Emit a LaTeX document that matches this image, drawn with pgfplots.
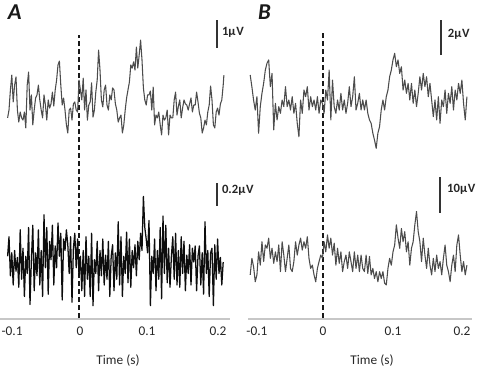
\documentclass[border=0pt]{standalone}
\usepackage{fontspec}
\setmainfont{Carlito}
\usepackage{pgfplots}
\pgfplotsset{compat=1.18}
\tikzset{
  sig/.style={black!70, line width=0.8pt, line join=round},
  sbar/.style={black!80, line width=1.1pt},
  barlab/.style={anchor=west, font=\fontsize{9.5}{11}\selectfont\bfseries, text=black!85, inner sep=0pt},
  dashv/.style={black!90, line width=1.1pt, dash pattern=on 3.8pt off 2.2pt},
}
\pgfplotsset{
  base/.style={anchor=south west, scale only axis, height=213pt,
    ymin=0, ymax=1, axis x line=bottom, axis y line=none,
    x axis line style={-, draw=black!22, line width=1pt},
    xticklabels={-0.1,0,0.1,0.2}, major tick length=0pt,
    xticklabel style={font=\fontsize{10}{12}\selectfont, text=black!85, yshift=-2.5pt}, clip=false},
  trace/.style={anchor=south west, scale only axis, width=167.475pt,
    xmin=-0.106, xmax=0.213, hide axis, clip=false},
}
\begin{document}
\begin{tikzpicture}
\path[use as bounding box] (0,0) rectangle (359.25pt,276.75pt);
% ---------- Panel A base ----------
\begin{axis}[base, at={(0pt,37.5pt)}, width=172.5pt, xmin=-0.1129, xmax=0.2157,
  xtick={-0.0957,0.0014,0.0971,0.1986}]
\addplot[dashv] coordinates {(0,0.003) (0,1)};
\end{axis}
% ---------- Panel B base ----------
\begin{axis}[base, at={(186pt,37.5pt)}, width=168pt, xmin=-0.1071, xmax=0.2129,
  xtick={-0.0943,0,0.1,0.1986}]
\addplot[dashv] coordinates {(0,0.003) (0,1.007)};
\end{axis}
% ---------- A top ----------
\begin{axis}[trace, at={(3.6pt,145.5pt)}, height=115.5pt, ymin=-2.5, ymax=3]
\addplot[sig] coordinates {
(-0.102,-0.46) (-0.100,-0.18) (-0.098,0.54) (-0.096,1.07) (-0.094,0.11) (-0.092,0.71) (-0.090,1.0) (-0.088,-0.18) (-0.086,-0.61) (-0.084,-0.25)
(-0.082,-0.46) (-0.080,-0.54) (-0.078,-0.25) (-0.076,-0.82) (-0.074,0.71) (-0.072,1.18) (-0.070,-0.18) (-0.068,0.36) (-0.066,-0.71) (-0.064,-0.18)
(-0.062,0.25) (-0.060,0.36) (-0.058,0.71) (-0.056,0.18) (-0.054,-0.18) (-0.052,-0.46) (-0.050,0.36) (-0.048,0) (-0.046,-0.54) (-0.044,0.18)
(-0.042,-0.11) (-0.040,0.04) (-0.038,0.46) (-0.036,-0.04) (-0.034,0.54) (-0.032,0.89) (-0.030,1.43) (-0.028,1.57) (-0.026,0.71) (-0.024,0)
(-0.022,0.25) (-0.020,-0.18) (-0.018,-0.71) (-0.016,-1.0) (-0.014,-0.18) (-0.012,-0.11) (-0.010,-0.54) (-0.008,0.04) (-0.006,0.11) (-0.004,-0.18)
(-0.002,-0.25) (0.000,0.89) (0.002,0.54) (0.004,0.18) (0.006,0.96) (0.008,-0.18) (0.010,0.54) (0.012,-0.54) (0.014,0) (0.016,0.11)
(0.018,0.79) (0.020,-0.43) (0.022,-0.18) (0.024,0.46) (0.026,0.89) (0.028,1.96) (0.030,1.25) (0.032,0.18) (0.034,-0.07) (0.036,0.54)
(0.038,0.71) (0.040,0) (0.042,-0.18) (0.044,0.36) (0.046,0.18) (0.048,0.61) (0.050,0.54) (0.052,0.04) (0.054,-0.18) (0.056,-0.61)
(0.058,-0.46) (0.060,-0.36) (0.062,-1.0) (0.064,-0.71) (0.066,-0.18) (0.068,0.25) (0.070,0.54) (0.072,0.82) (0.074,1.43) (0.076,1.32)
(0.078,1.54) (0.080,1.25) (0.082,2.07) (0.084,1.32) (0.086,1.79) (0.088,2.32) (0.090,1.61) (0.092,0.61) (0.094,0.18) (0.096,0)
(0.098,0.36) (0.100,0.36) (0.102,0.5) (0.104,-0.18) (0.106,0.64) (0.108,-0.71) (0.110,-0.36) (0.112,-0.46) (0.114,-0.25) (0.116,-0.71)
(0.118,-1.07) (0.120,-0.36) (0.122,-0.54) (0.124,-0.46) (0.126,-0.18) (0.128,-1.07) (0.130,-0.36) (0.132,-0.46) (0.134,-0.46) (0.136,0.18)
(0.138,0.46) (0.140,-0.36) (0.142,-0.04) (0.144,0.18) (0.146,-0.46) (0.148,-0.11) (0.150,0.18) (0.152,0.04) (0.154,0) (0.156,-0.18)
(0.158,0.04) (0.160,0.25) (0.162,-0.25) (0.164,0) (0.166,0) (0.168,0.46) (0.170,0.11) (0.172,-0.29) (0.174,-0.46) (0.176,-1.0)
(0.178,-0.82) (0.180,-0.54) (0.182,-0.71) (0.184,-0.25) (0.186,0) (0.188,0.68) (0.190,0.18) (0.192,-0.71) (0.194,-0.82) (0.196,-0.25)
(0.198,-0.11) (0.200,-0.36) (0.202,0.04) (0.204,0.18) (0.206,0.71) (0.207,1.07)
};
\draw[sbar] (axis cs:0.197,2.04) -- (axis cs:0.197,3.04);
\node[barlab] at (axis cs:0.204,2.6) {1μ\kern0.6pt V};
\end{axis}
% ---------- A bottom ----------
\begin{axis}[trace, at={(3.6pt,37.125pt)}, height=94.875pt, ymin=-0.5, ymax=0.6]
\addplot[black!95, line width=0.95pt, line join=round] coordinates {
(-0.102,0.05) (-0.100,0.22) (-0.098,-0.12) (-0.096,0.08) (-0.094,-0.2) (-0.092,0.1) (-0.090,-0.08) (-0.088,0.04) (-0.086,-0.22) (-0.084,0.28)
(-0.082,-0.15) (-0.080,0.12) (-0.078,-0.3) (-0.076,0.05) (-0.074,-0.1) (-0.072,0.3) (-0.070,-0.37) (-0.068,0.02) (-0.066,0.32) (-0.064,-0.25)
(-0.062,0.08) (-0.060,-0.12) (-0.058,0.28) (-0.056,-0.2) (-0.054,0.1) (-0.052,-0.3) (-0.050,0.41) (-0.048,-0.05) (-0.046,0.3) (-0.044,-0.28)
(-0.042,0.18) (-0.040,0.02) (-0.038,0.32) (-0.036,-0.2) (-0.034,0.14) (-0.032,-0.05) (-0.030,0.34) (-0.028,0.05) (-0.026,0.25) (-0.024,-0.33)
(-0.022,0.2) (-0.020,0.1) (-0.018,0.28) (-0.016,0.15) (-0.014,-0.1) (-0.012,0.22) (-0.010,-0.35) (-0.008,0.12) (-0.006,0.25) (-0.004,-0.05)
(-0.002,0.2) (0.000,-0.12) (0.002,0.05) (0.004,-0.25) (0.006,0.1) (0.008,-0.3) (0.010,0.22) (0.012,-0.15) (0.014,0.05) (0.016,-0.3)
(0.018,0.25) (0.020,-0.38) (0.022,0.02) (0.024,-0.1) (0.026,0.18) (0.028,-0.25) (0.030,0.1) (0.032,-0.12) (0.034,0.2) (0.036,-0.2)
(0.038,0.06) (0.040,-0.15) (0.042,0.18) (0.044,-0.3) (0.046,0.05) (0.048,0.15) (0.050,-0.25) (0.052,0.08) (0.054,-0.15) (0.056,0.35)
(0.058,-0.2) (0.060,0.22) (0.062,-0.3) (0.064,0.05) (0.066,-0.1) (0.068,0.26) (0.070,-0.18) (0.072,0.2) (0.074,-0.22) (0.076,0.1)
(0.078,-0.05) (0.080,0.15) (0.082,-0.12) (0.084,0.18) (0.086,0.02) (0.088,0.25) (0.090,0.1) (0.092,0.57) (0.094,0.3) (0.096,0.2)
(0.098,0.08) (0.100,0.36) (0.102,-0.38) (0.104,0.05) (0.106,-0.1) (0.108,0.2) (0.110,-0.25) (0.112,0.1) (0.114,-0.15) (0.116,0.3)
(0.118,-0.32) (0.120,0.4) (0.122,-0.1) (0.124,0.32) (0.126,-0.18) (0.128,0.12) (0.130,-0.22) (0.132,0.05) (0.134,0.22) (0.136,-0.15)
(0.138,0.25) (0.140,-0.2) (0.142,0.1) (0.144,-0.22) (0.146,0.22) (0.148,-0.1) (0.150,0.18) (0.152,-0.25) (0.154,0.06) (0.156,-0.1)
(0.158,0.15) (0.160,-0.2) (0.162,0.12) (0.164,0.0) (0.166,0.14) (0.168,-0.25) (0.170,0.05) (0.172,0.14) (0.174,-0.2) (0.176,0.08)
(0.178,-0.28) (0.180,0.35) (0.182,-0.1) (0.184,0.1) (0.186,-0.3) (0.188,0.08) (0.190,0.12) (0.192,-0.38) (0.194,0.15) (0.196,-0.15)
(0.198,0.2) (0.200,-0.1) (0.202,0.04) (0.204,-0.2) (0.206,0.0)
};
\draw[sbar] (axis cs:0.197,0.487) -- (axis cs:0.197,0.687);
\node[barlab] at (axis cs:0.204,0.62) {0.2μ\kern0.6pt V};
\end{axis}
% ---------- B top ----------
\begin{axis}[trace, at={(186.6pt,162.375pt)}, height=85.3125pt, ymin=-3, ymax=3.5]
\addplot[sig] coordinates {
(-0.104,1.43) (-0.1016,0.76) (-0.0992,0) (-0.0968,-0.57) (-0.0944,0.19) (-0.092,-1.90) (-0.0896,-0.38) (-0.0872,0.38) (-0.0848,0.95) (-0.0824,1.71)
(-0.08,2.10) (-0.0776,2.29) (-0.0752,0.76) (-0.0728,1.52) (-0.0704,-1.71) (-0.068,-0.19) (-0.0656,-1.14) (-0.0632,-0.38) (-0.0608,-0.76) (-0.0584,0)
(-0.056,-0.38) (-0.0536,0.76) (-0.0512,-0.38) (-0.0488,0) (-0.0464,-0.57) (-0.044,0.19) (-0.0416,-0.76) (-0.0392,-0.19) (-0.0368,-1.33)
(-0.0344,-2.10) (-0.032,0) (-0.0296,-0.76) (-0.0272,0.57) (-0.0248,0.19) (-0.0224,0.76) (-0.02,-0.57) (-0.0176,0.19) (-0.0152,-0.38) (-0.0128,0)
(-0.0104,-0.57) (-0.008,0.19) (-0.0056,-0.76) (-0.0032,0) (-0.0008,-0.19) (0.0016,-0.76) (0.004,0.57) (0.0064,0) (0.0088,1.71) (0.0112,-1.14)
(0.0136,1.14) (0.016,-0.38) (0.0184,-0.76) (0.0208,0) (0.0232,-0.57) (0.0256,0.38) (0.028,-0.57) (0.0304,0) (0.0328,-0.76)
(0.0352,-0.19) (0.0376,0.76) (0.04,-0.38) (0.0424,0.19) (0.0448,1.33) (0.0472,-0.57) (0.0496,-0.19) (0.052,0.38) (0.0544,-0.57) (0.0568,0)
(0.0592,-0.57) (0.0616,0) (0.064,-0.76) (0.0664,-1.14) (0.0688,-1.33) (0.0712,-1.90) (0.0736,-2.29) (0.076,-2.76) (0.0784,-1.90) (0.0808,-1.52)
(0.0832,-0.57) (0.0856,0) (0.088,-0.57) (0.0904,0.19) (0.0928,0.57) (0.0952,1.33) (0.0976,1.71) (0.1,2.29) (0.1024,2.67) (0.1048,1.90)
(0.1072,2.29) (0.1096,1.52) (0.112,1.90) (0.1144,0.57) (0.1168,1.14) (0.1192,0.38) (0.1216,0.95) (0.124,0) (0.1264,0.95) (0.1288,-0.19)
(0.1312,0.57) (0.1336,-0.38) (0.136,0.38) (0.1384,1.33) (0.1408,0.57) (0.1432,1.52) (0.1456,0.76) (0.148,1.33) (0.1504,0.19) (0.1528,0.95)
(0.1552,0) (0.1576,-0.95) (0.16,0) (0.1624,-1.14) (0.1648,0.19) (0.1672,-1.33) (0.1696,0) (0.172,-0.38) (0.1744,0.57) (0.1768,-0.76)
(0.1792,0.38) (0.1816,-0.19) (0.184,0.76) (0.1864,-0.57) (0.1888,0.57) (0.1912,0) (0.1936,0.95) (0.196,0.38) (0.1984,1.14) (0.2008,-0.19)
(0.2032,-1.14) (0.2056,0.19)
};
\draw[sbar] (axis cs:0.1686,2.571) -- (axis cs:0.1686,4.571);
\node[barlab] at (axis cs:0.178,3.75) {2μ\kern0.6pt V};
\end{axis}
% ---------- B bottom ----------
\begin{axis}[trace, at={(186.6pt,36.3pt)}, height=83.7pt, ymin=-16, ymax=15]
\addplot[sig] coordinates {
(-0.104,-3.3) (-0.1016,1.3) (-0.0992,-1.0) (-0.0968,-5.2) (-0.0944,-3.3) (-0.092,3.1) (-0.0896,-0.6) (-0.0872,5.9) (-0.0848,0.4) (-0.0824,5.0)
(-0.08,4.1) (-0.0776,6.9) (-0.0752,1.3) (-0.0728,4.1) (-0.0704,-0.1) (-0.068,3.1) (-0.0656,0.4) (-0.0632,5.0) (-0.0608,-2.4) (-0.0584,5.9)
(-0.056,2.2) (-0.0536,-2.4) (-0.0512,1.3) (-0.0488,5.0) (-0.0464,-1.5) (-0.044,-2.4) (-0.0416,0.4) (-0.0392,5.9) (-0.0368,2.2) (-0.0344,5.0)
(-0.032,6.9) (-0.0296,3.6) (-0.0272,5.9) (-0.0248,4.1) (-0.0224,7.3) (-0.02,1.3) (-0.0176,-1.5) (-0.0152,-0.6) (-0.0128,-3.3) (-0.0104,-5.2)
(-0.008,-1.5) (-0.0056,0.4) (-0.0032,2.2) (-0.0008,1.3) (0.0016,5.9) (0.004,3.1) (0.0064,7.8) (0.0088,4.1) (0.0112,6.9) (0.0136,2.2)
(0.016,5.5) (0.0184,-0.6) (0.0208,4.1) (0.0232,-0.1) (0.0256,3.1) (0.028,-2.4) (0.0304,0.4) (0.0328,2.2) (0.0352,-1.5) (0.0376,3.1)
(0.04,0.4) (0.0424,-2.4) (0.0448,3.1) (0.0472,-1.5) (0.0496,2.2)
(0.052,-2.4) (0.0544,2.2) (0.0568,-1.5) (0.0592,-2.4) (0.0616,2.2) (0.064,-2.9) (0.0664,1.8) (0.0688,-3.3) (0.0712,-1.5) (0.0736,-4.3)
(0.076,-2.4) (0.0784,-5.2) (0.0808,-2.4) (0.0832,-4.3) (0.0856,-2.4) (0.088,-5.6) (0.0904,-6.1) (0.0928,-1.5) (0.0952,1.3) (0.0976,-0.6)
(0.1,3.1) (0.1024,5.0) (0.1048,10.6) (0.1072,6.9) (0.1096,4.1) (0.112,9.6) (0.1144,5.9) (0.1168,8.7) (0.1192,3.1) (0.1216,5.9)
(0.124,-0.6) (0.1264,4.1) (0.1288,5.9) (0.1312,10.6) (0.1336,14.3) (0.136,8.7) (0.1384,5.9) (0.1408,0.4) (0.1432,6.9) (0.1456,2.2)
(0.148,-1.5) (0.1504,4.1) (0.1528,-0.6) (0.1552,-3.3) (0.1576,1.3) (0.16,-2.4) (0.1624,2.2) (0.1648,-1.5) (0.1672,0.4) (0.1696,-3.3)
(0.172,1.3) (0.1744,5.0) (0.1768,-0.6) (0.1792,-2.4) (0.1816,-5.2) (0.184,-0.6) (0.1864,2.2) (0.1888,-2.4) (0.1912,5.0) (0.1936,7.8)
(0.196,2.2) (0.1984,-2.4) (0.2008,0.4) (0.2032,-3.3) (0.2056,-0.6)
};
\draw[sbar] (axis cs:0.1671,13.89) -- (axis cs:0.1671,23.89);
\node[barlab] at (axis cs:0.177,20.5) {10μ\kern0.6pt V};
\end{axis}
% ---------- texts ----------
\node[font=\fontsize{17}{19}\selectfont\bfseries\itshape, text=black!90] at (11pt,268pt) {A};
\node[font=\fontsize{17}{19}\selectfont\bfseries\itshape, text=black!90] at (198.4pt,268pt) {B};
\node[font=\fontsize{10}{12}\selectfont, text=black!85] at (88.5pt,6pt) {Time (s)};
\node[font=\fontsize{10}{12}\selectfont, text=black!85] at (279pt,6pt) {Time (s)};
\end{tikzpicture}
\end{document}
